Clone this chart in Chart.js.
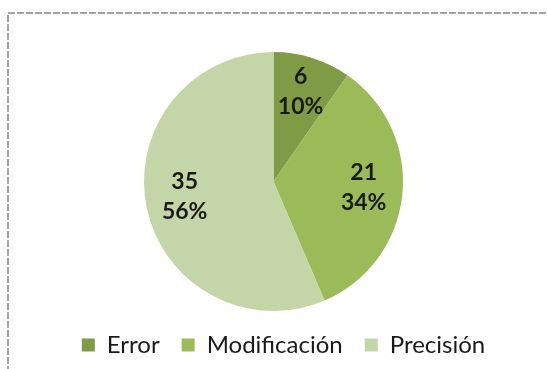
<!DOCTYPE html>
<html><head><meta charset="UTF-8">
<title>Tipos de cambio</title>
<style>
* { margin: 0; padding: 0; box-sizing: border-box; }
body { background: #ffffff; width: 547px; height: 369px; overflow: hidden; }
.wrap { position: absolute; left: 0; top: 0; width: 547px; height: 369px; }
</style>
<script src="https://cdn.jsdelivr.net/npm/chart.js"></script>
</head>
<body>
<div class="wrap"><canvas id="pieChart"></canvas></div>
<script>
const categories = ['Error', 'Modificación', 'Precisión'];
const counts = [6, 21, 35];
const sliceColors = ['#7f9b46', '#9bbb59', '#c4d6a8'];

const FONT = "Lato, 'Open Sans', sans-serif";

// dashed frame around the chart area (runs off the right and bottom edges)
const frame = {
  id: 'frame',
  beforeDraw(chart) {
    const ctx = chart.ctx;
    ctx.save();
    ctx.strokeStyle = '#a3a3a3';
    ctx.lineWidth = 2;
    ctx.setLineDash([7, 2]);
    ctx.beginPath();
    ctx.moveTo(8, 400);
    ctx.lineTo(8, 13);
    ctx.lineTo(560, 13);
    ctx.stroke();
    ctx.restore();
  }
};

// legend row sits a little right of the pie
const legendShift = {
  id: 'legendShift',
  afterLayout(chart) {
    if (chart.legend) {
      chart.legend.left += 10;
      chart.legend.right += 10;
    }
  }
};

// value + percentage inside each slice
const sliceLabels = {
  id: 'sliceLabels',
  afterDatasetsDraw(chart) {
    const ctx = chart.ctx;
    const meta = chart.getDatasetMeta(0);
    const data = chart.data.datasets[0].data;
    const total = data.reduce((a, b) => a + b, 0);
    ctx.save();
    ctx.fillStyle = '#1a1a1a';
    ctx.font = "bold 23px " + FONT;
    ctx.textAlign = 'center';
    ctx.textBaseline = 'middle';
    meta.data.forEach((arc, i) => {
      const p = arc.getProps(['x', 'y', 'startAngle', 'endAngle', 'outerRadius'], true);
      const mid = (p.startAngle + p.endAngle) / 2;
      const r = p.outerRadius * 0.7;
      const x = p.x + Math.cos(mid) * r;
      const y = p.y + Math.sin(mid) * r - 3;
      const pct = Math.round(data[i] / total * 100) + '%';
      ctx.fillText(String(data[i]), x, y - 15);
      ctx.fillText(pct, x, y + 15);
    });
    ctx.restore();
  }
};

new Chart(document.getElementById('pieChart'), {
  type: 'pie',
  data: {
    labels: categories,
    datasets: [{
      data: counts,
      backgroundColor: sliceColors,
      borderWidth: 0
    }]
  },
  options: {
    responsive: true,
    maintainAspectRatio: false,
    animation: false,
    layout: { padding: { top: 52, bottom: 2, left: 0, right: 0 } },
    plugins: {
      tooltip: { enabled: false },
      legend: {
        position: 'bottom',
        labels: {
          boxWidth: 13,
          boxHeight: 13,
          padding: 22,
          color: '#1a1a1a',
          font: { family: FONT, size: 24 }
        }
      }
    }
  },
  plugins: [frame, legendShift, sliceLabels]
});
</script>
</body></html>
